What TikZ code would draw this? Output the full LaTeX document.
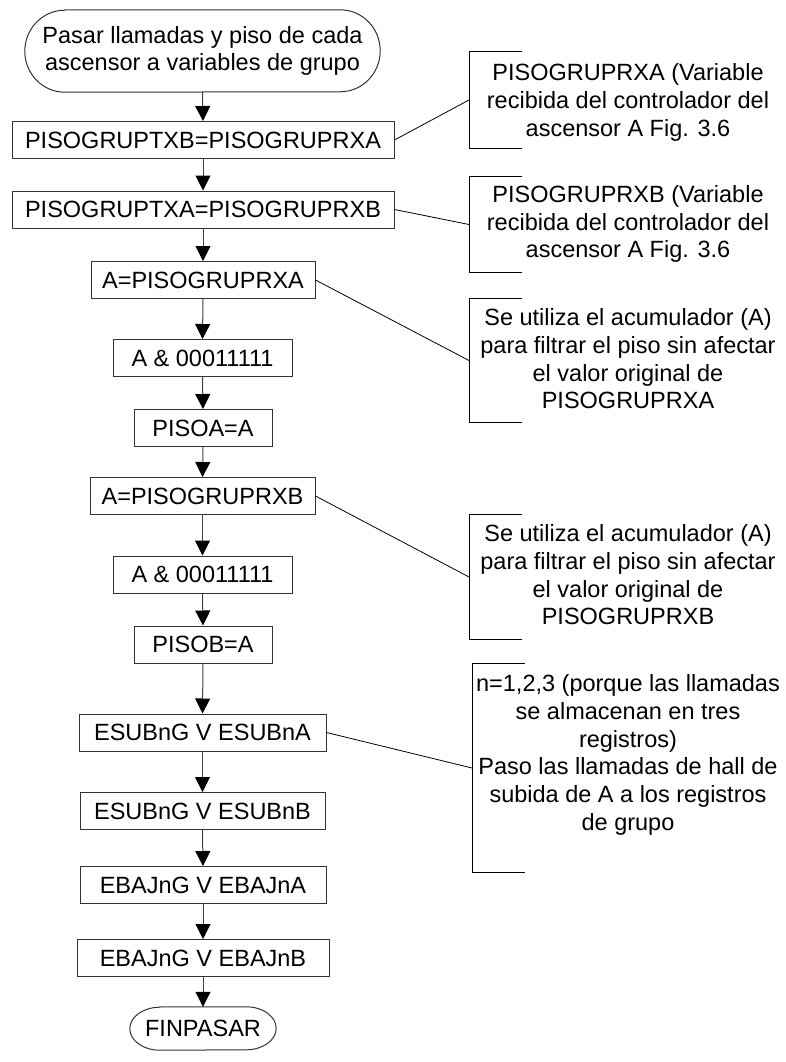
\documentclass[tikz,border=0pt]{standalone}
\usepackage{fontspec}
\setmainfont{Liberation Sans}
\usetikzlibrary{arrows.meta}
% outline of a terminal step: straight top and bottom, elliptical ends
\newcommand\drawcapsule[3]{%
  \draw[termline] ([xshift=#2]#1.north west) -- ([xshift=-#2]#1.north east)
    arc[start angle=90, end angle=-90, x radius=#2, y radius=#3]
    -- ([xshift=#2]#1.south west)
    arc[start angle=270, end angle=90, x radius=#2, y radius=#3] -- cycle;}
\begin{document}
\begin{tikzpicture}[x=1pt,y=-1pt,
  every node/.style={font=\fontsize{23.5}{27.7}\selectfont, inner sep=0pt},
  proc/.style={draw=black!80, line width=1pt, minimum height=37pt},
  term/.style={align=center},
  termline/.style={draw=black!80, line width=1pt},
  flow/.style={draw=black!75, line width=1pt, -{Triangle[width=15pt,length=15pt,color=black]}},
  link/.style={draw=black, line width=0.8pt},
  brk/.style={minimum width=53pt},
  notetext/.style={align=center}
]
\useasboundingbox (0,0) rectangle (785,1062);

% main flow
\node[term, minimum width=355pt, minimum height=82pt] (start) at (202.5,51)
  {Pasar llamadas y piso de cada\\ascensor a variables de grupo};
\node[proc, minimum width=382pt] (b1) at (203,140) {PISOGRUPTXB=PISOGRUPRXA};
\node[proc, minimum width=382pt] (b2) at (203,209.5) {PISOGRUPTXA=PISOGRUPRXB};
\node[proc, minimum width=224pt] (b3) at (203,280) {A=PISOGRUPRXA};
\node[proc, minimum width=179pt] (b4) at (202.5,358) {A \& 00011111};
\node[proc, minimum width=138pt] (b5) at (203,428) {PISOA=A};
\node[proc, minimum width=225pt] (b6) at (202.5,496) {A=PISOGRUPRXB};
\node[proc, minimum width=179pt] (b7) at (202.5,574.5) {A \& 00011111};
\node[proc, minimum width=138pt] (b8) at (203,644.5) {PISOB=A};
\node[proc, minimum width=247pt] (b9) at (202.5,732.5) {ESUBnG V ESUBnA};
\node[proc, minimum width=245pt] (b10) at (202.5,811) {ESUBnG V ESUBnB};
\node[proc, minimum width=246pt] (b11) at (203,885) {EBAJnG V EBAJnA};
\node[proc, minimum width=252pt] (b12) at (203,958) {EBAJnG V EBAJnB};
\node[term, minimum width=146pt, minimum height=43pt] (fin) at (203,1028.5) {FINPASAR};

\drawcapsule{start}{40pt}{41pt}
\drawcapsule{fin}{30pt}{21.5pt}

\foreach \a/\b in {start/b1,b1/b2,b2/b3,b3/b4,b4/b5,b5/b6,b6/b7,b7/b8,b8/b9,b9/b10,b10/b11,b11/b12,b12/fin}
  \draw[flow] (\a.south) -- (\b.north);

% comment brackets
\node[brk, minimum height=96pt, anchor=west] (k1) at (469,100) {};
\node[brk, minimum height=95pt, anchor=west] (k2) at (469,224.5) {};
\node[brk, minimum height=123pt, anchor=west] (k3) at (469,360.5) {};
\node[brk, minimum height=124pt, anchor=west] (k4) at (469,577) {};
\node[brk, minimum height=208pt, anchor=west] (k5) at (472,768) {};

\foreach \k in {k1,k2,k3,k4,k5}
  \draw[link] ([xshift=53pt]\k.north west) -- (\k.north west) -- (\k.south west) -- ([xshift=53pt]\k.south west);

% comment texts
\node[notetext] (t1) at (628,102.5) {PISOGRUPRXA (Variable\\recibida del controlador del\\ascensor A Fig. 3.6};
\node[notetext] (t2) at (628,224) {PISOGRUPRXB (Variable\\recibida del controlador del\\ascensor A Fig. 3.6};
\node[notetext] (t3) at (628,359) {Se utiliza el acumulador (A)\\para filtrar el piso sin afectar\\el valor original de\\PISOGRUPRXA};
\node[notetext] (t4) at (628,575) {Se utiliza el acumulador (A)\\para filtrar el piso sin afectar\\el valor original de\\PISOGRUPRXB};
\node[notetext] (t5) at (628,755) {n=1,2,3 (porque las llamadas\\se almacenan en tres\\registros)\\Paso las llamadas de hall de\\subida de A a los registros\\de grupo};

% links from steps to comments
\draw[link] (b1.east) -- (k1.west);
\draw[link] (b2.east) -- (k2.west);
\draw[link] (b3.east) -- (k3.west);
\draw[link] (b6.east) -- (k4.west);
\draw[link] (b9.east) -- (k5.west);
\end{tikzpicture}
\end{document}
